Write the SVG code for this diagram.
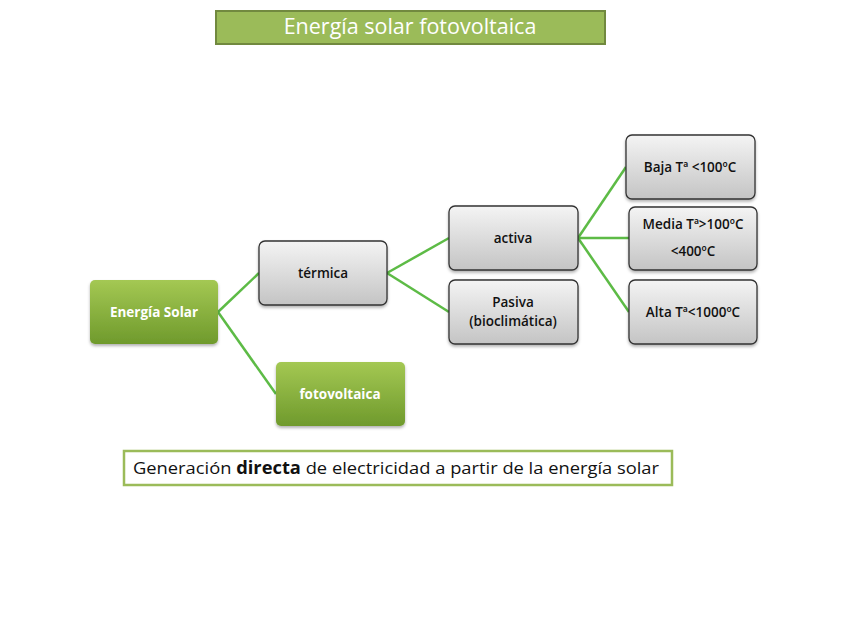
<svg xmlns="http://www.w3.org/2000/svg" width="848" height="636" viewBox="0 0 848 636">
<defs>
<linearGradient id="gg" x1="0" y1="0" x2="0" y2="1"><stop offset="0" stop-color="#a4c853"/><stop offset="1" stop-color="#6f9a2c"/></linearGradient>
<linearGradient id="gr" x1="0" y1="0" x2="0" y2="1"><stop offset="0" stop-color="#f4f4f4"/><stop offset="1" stop-color="#c4c4c4"/></linearGradient>
<filter id="sh" x="-10%" y="-10%" width="130%" height="140%"><feDropShadow dx="0" dy="2" stdDeviation="1.5" flood-color="#000" flood-opacity="0.3"/></filter>
</defs>
<style>
.g{fill:url(#gg);filter:url(#sh)}
.r{fill:url(#gr);stroke:#333;stroke-width:1.3;filter:url(#sh)}
.tw{font-family:"Open Sans","Liberation Sans",sans-serif;font-size:13.5px;font-weight:bold;fill:#fff;text-anchor:middle}
.tb{font-family:"Open Sans","Liberation Sans",sans-serif;font-size:13.5px;fill:#111;text-anchor:middle;font-weight:600}
.c{stroke:#5dbb46;stroke-width:2.5;fill:none}
</style>
<rect x="0" y="0" width="848" height="636" fill="#fff"/>
<g id="title">
<rect x="216" y="11" width="389" height="33" fill="#9bbb59" stroke="#71893f" stroke-width="2"/>
<text x="410" y="34" font-family="'Open Sans','Liberation Sans',sans-serif" font-size="21.5" fill="#fff" text-anchor="middle">Energía solar fotovoltaica</text>
</g>
<g id="connectors">
<path class="c" d="M218,312 L259,273"/>
<path class="c" d="M218,312 L276,394"/>
<path class="c" d="M387,273 L449,238"/>
<path class="c" d="M387,273 L449,312"/>
<path class="c" d="M578,238 L626,167"/>
<path class="c" d="M578,238 L629,238"/>
<path class="c" d="M578,238 L629,312"/>
</g>
<g id="energia-solar"><rect class="g" x="90" y="280" width="128" height="64" rx="5"/><text class="tw" x="154" y="317">Energía Solar</text></g>
<g id="termica"><rect class="r" x="259" y="241" width="128" height="64" rx="6"/><text class="tb" x="323" y="278">térmica</text></g>
<g id="fotovoltaica"><rect class="g" x="276" y="362" width="129" height="64" rx="5"/><text class="tw" x="340" y="399">fotovoltaica</text></g>
<g id="activa"><rect class="r" x="449" y="206" width="129" height="64" rx="6"/><text class="tb" x="513" y="243">activa</text></g>
<g id="pasiva"><rect class="r" x="449" y="280" width="129" height="64" rx="6"/><text class="tb" x="513" y="307">Pasiva</text><text class="tb" x="513" y="326">(bioclimática)</text></g>
<g id="baja"><rect class="r" x="626" y="135" width="129" height="64" rx="6"/><text class="tb" x="690" y="172">Baja Tª &lt;100ºC</text></g>
<g id="media"><rect class="r" x="629" y="207" width="128" height="63" rx="6"/><text class="tb" x="693" y="229">Media Tª&gt;100ºC</text><text class="tb" x="693" y="256">&lt;400ºC</text></g>
<g id="alta"><rect class="r" x="629" y="280" width="128" height="64" rx="6"/><text class="tb" x="693" y="317">Alta Tª&lt;1000ºC</text></g>
<g id="nota">
<rect x="124" y="451" width="548" height="34" fill="#fff" stroke="#9bbb59" stroke-width="2.5"/>
<text x="133" y="474" font-family="'Open Sans','Liberation Sans',sans-serif" font-size="17" fill="#111" textLength="526" lengthAdjust="spacingAndGlyphs">Generación <tspan font-weight="bold">directa</tspan> de electricidad a partir de la energía solar</text>
</g>
</svg>
